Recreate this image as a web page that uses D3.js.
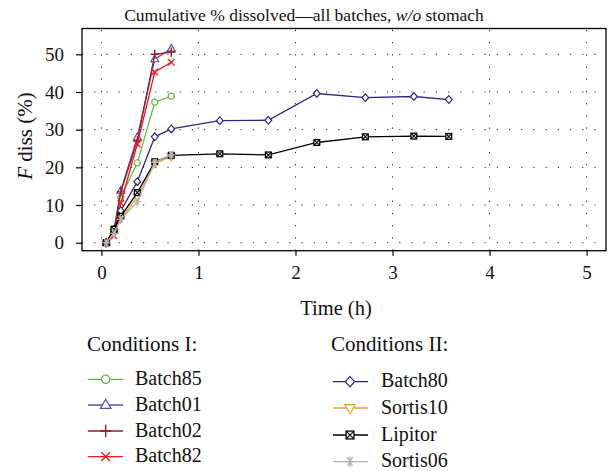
<!DOCTYPE html>
<html><head><meta charset="utf-8">
<script src="https://cdn.jsdelivr.net/npm/d3@7/dist/d3.min.js"></script>
<style>body{margin:0;background:#fff}svg{display:block}text{font-family:"Liberation Serif","DejaVu Serif",serif;fill:#111}</style>
</head><body><svg id="c" width="608" height="471"></svg>
<script>
const timesI = [0.05, 0.13, 0.2, 0.37, 0.55, 0.72];
const timesII = [0.05, 0.13, 0.2, 0.37, 0.55, 0.72, 1.22, 1.72, 2.22, 2.72, 3.22, 3.58];
const batch85 = [0, 3.0, 12.0, 21.2, 37.3, 38.9];
const batch01 = [0, 3.2, 13.8, 28.0, 48.7, 51.5];
const batch02 = [0, 3.5, 13.5, 27.0, 50.0, 50.6];
const batch82 = [0, 1.8, 10.5, 26.2, 45.3, 47.9];
const batch80 = [0, 3.3, 8.5, 16.2, 28.1, 30.2, 32.4, 32.5, 39.6, 38.5, 38.8, 38.0];
const sortis10 = [0, 2.8, 6.3, 12.2, 21.0, 22.9];
const lipitor = [0, 3.6, 7.0, 13.3, 21.5, 23.2, 23.6, 23.3, 26.6, 28.1, 28.3, 28.2];
const sortis06 = [0, 2.5, 6.2, 10.9, 21.3, 23.3];
const xTicks = [0, 1, 2, 3, 4, 5];
const yTicks = [0, 10, 20, 30, 40, 50];

const series = [
  {name:"Batch85", t:timesI, v:batch85, color:"#5cbf3c", marker:"circle", group:0},
  {name:"Batch01", t:timesI, v:batch01, color:"#5252b0", marker:"triangle", group:0},
  {name:"Batch02", t:timesI, v:batch02, color:"#9a1d24", marker:"plus", group:0},
  {name:"Batch82", t:timesI, v:batch82, color:"#f5161c", marker:"cross", group:0},
  {name:"Batch80", t:timesII, v:batch80, color:"#2c2785", marker:"diamond", group:1},
  {name:"Sortis10", t:timesI, v:sortis10, color:"#f2a11f", marker:"tridown", group:1},
  {name:"Lipitor", t:timesII, v:lipitor, color:"#000000", marker:"boxx", group:1},
  {name:"Sortis06", t:timesI, v:sortis06, color:"#b4b4b4", marker:"star", group:1}
];

const svg = d3.select("#c");
const L = 82, R = 606, T = 28.5, B = 250.7;
const x = d3.scaleLinear().domain([-0.2, 5.2]).range([L, R]);
const y = d3.scaleLinear().domain([-2.12, 56.85]).range([B, T]);
const SERIF = '"Liberation Serif", "DejaVu Serif", serif';

// grid
const grid = svg.append("g").attr("stroke", "#222").attr("stroke-width", 1).attr("stroke-dasharray", "1.2,11");
grid.selectAll(".gx").data(xTicks).join("line").attr("x1", d => x(d)).attr("x2", d => x(d)).attr("y1", B).attr("y2", T);
grid.selectAll(".gy").data(yTicks).join("line").attr("y1", d => y(d)).attr("y2", d => y(d)).attr("x1", L).attr("x2", R);

// axes
const fmt = d3.format("d");
const xa = svg.append("g").attr("transform", `translate(0,${B})`).call(d3.axisBottom(x).tickValues(xTicks).tickFormat(fmt).tickSize(5).tickSizeOuter(0).tickPadding(10));
const ya = svg.append("g").attr("transform", `translate(${L},0)`).call(d3.axisLeft(y).tickValues(yTicks).tickFormat(fmt).tickSize(6).tickSizeOuter(0).tickPadding(12));
[xa, ya].forEach(a => {
  a.attr("font-family", SERIF).attr("font-size", 19);
  a.select(".domain").remove();
  a.selectAll("line").attr("stroke", "#000").attr("stroke-width", 1.2);
  a.selectAll("text").attr("fill", "#111").attr("font-family", SERIF).style("font-family", SERIF).style("font-size", "19px");
});
svg.append("rect").attr("x", L).attr("y", T).attr("width", R - L).attr("height", B - T).attr("fill", "none").attr("stroke", "#000").attr("stroke-width", 1.3);

// markers
function drawMarker(g, type, color, s) {
  s = s || 1;
  const w = 1.2;
  if (type === "circle") g.append("circle").attr("r", 3.6*s).attr("fill", "#fff").attr("stroke", color).attr("stroke-width", w);
  else if (type === "triangle") g.append("path").attr("d", `M0,${-5*s}L${4.6*s},${3*s}L${-4.6*s},${3*s}Z`).attr("fill", "#fff").attr("stroke", color).attr("stroke-width", w);
  else if (type === "tridown") g.append("path").attr("d", `M0,${5*s}L${4.6*s},${-3*s}L${-4.6*s},${-3*s}Z`).attr("fill", "#fff").attr("stroke", color).attr("stroke-width", w);
  else if (type === "diamond") g.append("path").attr("d", `M0,${-4.5*s}L${4*s},0L0,${4.5*s}L${-4*s},0Z`).attr("fill", "#fff").attr("stroke", color).attr("stroke-width", w);
  else if (type === "plus") g.append("path").attr("d", `M${-5*s},0H${5*s}M0,${-5.5*s}V${5.5*s}`).attr("stroke", color).attr("stroke-width", 1.4);
  else if (type === "cross") g.append("path").attr("d", `M${-3.8*s},${-3.8*s}L${3.8*s},${3.8*s}M${3.8*s},${-3.8*s}L${-3.8*s},${3.8*s}`).attr("stroke", color).attr("stroke-width", 1.3);
  else if (type === "boxx") { const h = 3.4*s; g.append("rect").attr("x", -h).attr("y", -h).attr("width", 2*h).attr("height", 2*h).attr("fill", "#fff").attr("stroke", color).attr("stroke-width", 1.3); g.append("path").attr("d", `M${-h},${-h}L${h},${h}M${h},${-h}L${-h},${h}`).attr("stroke", color).attr("stroke-width", 1.1); }
  else if (type === "star") { const r = 4.5*s; g.append("path").attr("d", `M${-r},0H${r}M${-r*0.5},${-r*0.87}L${r*0.5},${r*0.87}M${r*0.5},${-r*0.87}L${-r*0.5},${r*0.87}M0,${-r}V${r}`).attr("stroke", color).attr("stroke-width", 1.3); }
}

const line = d3.line().x(d => x(d[0])).y(d => y(d[1]));
series.forEach(s => {
  const pts = s.t.slice(0, s.v.length).map((t, i) => [t, s.v[i]]);
  const g = svg.append("g");
  g.append("path").attr("d", line(pts)).attr("fill", "none").attr("stroke", s.color).attr("stroke-width", 1.3);
  pts.forEach(p => { const m = g.append("g").attr("transform", `translate(${x(p[0])},${y(p[1])})`); drawMarker(m, s.marker, s.color, 0.85); });
});

// title
const title = svg.append("text").attr("x", 304).attr("y", 21).attr("text-anchor", "middle").style("font-size", "17.5px");
title.append("tspan").text("Cumulative % dissolved\u2014all batches, ");
title.append("tspan").style("font-style", "italic").text("w/o");
title.append("tspan").text(" stomach");

// y label
const yl = svg.append("text").attr("transform", "translate(31.5,136) rotate(-90)").attr("text-anchor", "middle").style("font-size", "21px");
yl.append("tspan").style("font-style", "italic").text("F");
yl.append("tspan").text(" diss (%)");

// x label
svg.append("text").attr("x", 336).attr("y", 315).attr("text-anchor", "middle").style("font-size", "20.5px").text("Time (h)");

// legend
const legendCols = [
  {title:"Conditions I:", tx:87, lx1:88, lx2:123, mx:105.7, txt:135, ys:[379.3, 405, 431, 456.7]},
  {title:"Conditions II:", tx:331, lx1:333, lx2:368, mx:350, txt:381, ys:[381.7, 408, 435, 461.7]}
];
legendCols.forEach((c, gi) => {
  svg.append("text").attr("x", c.tx).attr("y", 351).style("font-size", "21px").text(c.title);
  series.filter(s => s.group === gi).forEach((s, i) => {
    const yy = c.ys[i];
    svg.append("line").attr("x1", c.lx1).attr("x2", c.lx2).attr("y1", yy).attr("y2", yy).attr("stroke", s.color).attr("stroke-width", 1.3);
    const m = svg.append("g").attr("transform", `translate(${c.mx},${yy})`);
    drawMarker(m, s.marker, s.color, 1.15);
    svg.append("text").attr("x", c.txt).attr("y", yy + 5.5).style("font-size", "20px").text(s.name);
  });
});
</script></body></html>
